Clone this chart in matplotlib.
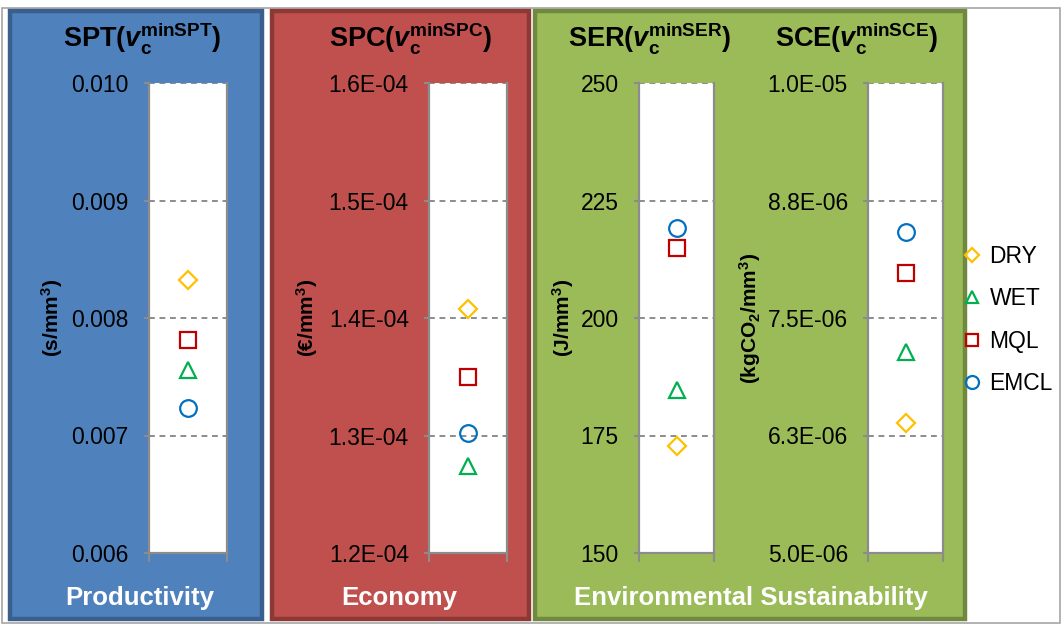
import matplotlib
matplotlib.use("Agg")
import matplotlib.pyplot as plt
from matplotlib.patches import Rectangle

# ---------------- data ----------------
categories = ["DRY", "WET", "MQL", "EMCL"]
spt_values = [0.00832, 0.00756, 0.00781, 0.00723]
spc_values = [1.408e-4, 1.274e-4, 1.350e-4, 1.302e-4]
ser_values = [172.8, 184.7, 214.9, 219.1]
sce_values = [6.38e-6, 7.14e-6, 7.98e-6, 8.42e-6]

spt_ticks = [0.006, 0.007, 0.008, 0.009, 0.010]
spt_ticklabels = ["0.006", "0.007", "0.008", "0.009", "0.010"]
spc_ticks = [1.2e-4, 1.3e-4, 1.4e-4, 1.5e-4, 1.6e-4]
spc_ticklabels = ["1.2E-04", "1.3E-04", "1.4E-04", "1.5E-04", "1.6E-04"]
ser_ticks = [150, 175, 200, 225, 250]
ser_ticklabels = ["150", "175", "200", "225", "250"]
sce_ticks = [5.0e-6, 6.25e-6, 7.5e-6, 8.75e-6, 1.0e-5]
sce_ticklabels = ["5.0E-06", "6.3E-06", "7.5E-06", "8.8E-06", "1.0E-05"]

titles = [r"SPT($\mathbfit{v}_{\mathbf{c}}^{\mathbf{minSPT}}$)",
          r"SPC($\mathbfit{v}_{\mathbf{c}}^{\mathbf{minSPC}}$)",
          r"SER($\mathbfit{v}_{\mathbf{c}}^{\mathbf{minSER}}$)",
          r"SCE($\mathbfit{v}_{\mathbf{c}}^{\mathbf{minSCE}}$)"]
ylabels = [r"(s/mm$^{\mathbf{3}}$)", r"(€/mm$^{\mathbf{3}}$)",
           r"(J/mm$^{\mathbf{3}}$)", r"(kgCO$_{\mathbf{2}}$/mm$^{\mathbf{3}}$)"]
groups = ["Productivity", "Economy", "Environmental Sustainability"]

# ---------------- style ----------------
plt.rcParams["font.family"] = ["Liberation Sans", "DejaVu Sans"]
plt.rcParams["mathtext.fontset"] = "custom"
plt.rcParams["mathtext.rm"] = "Liberation Sans"
plt.rcParams["mathtext.it"] = "Liberation Sans:italic"
plt.rcParams["mathtext.bf"] = "Liberation Sans:bold"
plt.rcParams["mathtext.bfit"] = "Liberation Sans:bold:italic"

styles = {
    "DRY": dict(marker="D", color="#FFC000", ms=9.5),
    "WET": dict(marker="^", color="#00B050", ms=11.5),
    "MQL": dict(marker="s", color="#C00000", ms=11),
    "EMCL": dict(marker="o", color="#0070C0", ms=12),
}

W, H = 1062, 624
fig = plt.figure(figsize=(W / 100, H / 100), dpi=100)
fig.patch.set_facecolor("white")


def fx(x):
    return x / W


def fy(y):
    return 1 - y / H


# outer chart border
fig.add_artist(Rectangle((fx(1.5), fy(622.5)), fx(1058), (622.5 - 8) / H,
                         transform=fig.transFigure, facecolor="white",
                         edgecolor="#a6a6a6", lw=1.2, zorder=-10))

# coloured group panels (left, right in px)
panels = [(10, 262, "#4F81BD", "#3A5F8C"),
          (272, 529, "#C0504D", "#8C3836"),
          (535, 965, "#9BBB59", "#71893F")]
for (x0, x1, fc, ec) in panels:
    fig.add_artist(Rectangle((fx(x0), fy(619)), fx(x1 - x0), (619 - 11) / H,
                             transform=fig.transFigure, facecolor=fc,
                             edgecolor=ec, lw=3.2, zorder=-5))

# axes geometry (px)
axes_x = [(149, 227), (429, 507), (639, 714), (868, 943)]
y_top, y_bot = 83, 553
values_list = [spt_values, spc_values, ser_values, sce_values]
ticks_list = [spt_ticks, spc_ticks, ser_ticks, sce_ticks]
ticklabels_list = [spt_ticklabels, spc_ticklabels, ser_ticklabels, sce_ticklabels]
title_x = [142, 411, 650, 857]
ylabel_x = [52, 307, 563, 750]

grey = "#8c8c8c"
all_axes = []
for i in range(4):
    x0, x1 = axes_x[i]
    ax = fig.add_axes([fx(x0), fy(y_bot), fx(x1 - x0), (y_bot - y_top) / H])
    ax.set_facecolor("white")
    ticks = ticks_list[i]
    ax.set_ylim(ticks[0], ticks[-1])
    ax.set_xlim(0, 1)
    ax.set_yticks(ticks)
    ax.set_yticklabels(ticklabels_list[i], fontsize=16.5)
    ax.set_xticks([0, 1])
    ax.set_xticklabels([])
    ax.tick_params(axis="y", length=3.5, width=1.5, color=grey, pad=11)
    ax.tick_params(axis="x", length=6.5, width=1.5, color=grey, direction="out")
    for s in ["left", "right", "bottom"]:
        ax.spines[s].set_color(grey)
        ax.spines[s].set_linewidth(1.6)
    ax.spines["top"].set_visible(False)
    for t in ticks[1:]:
        ax.axhline(t, color=grey, lw=1.4, ls=(0, (3, 2.4)), zorder=1)
    for cat, val in zip(categories, values_list[i]):
        st = styles[cat]
        ax.plot([0.5], [val], linestyle="none", marker=st["marker"],
                markersize=st["ms"], markerfacecolor="none",
                markeredgecolor=st["color"], markeredgewidth=1.6,
                label=cat, zorder=3, clip_on=False)
    all_axes.append(ax)
    fig.text(fx(title_x[i]), fy(38), titles[i], fontsize=19.5,
             fontweight="bold", ha="center", va="center")
    fig.text(fx(ylabel_x[i]), fy((y_top + y_bot) / 2), ylabels[i],
             fontsize=15, fontweight="bold", rotation=90,
             ha="center", va="center")

# group labels
group_x = [140, 399, 751]
for gx, g in zip(group_x, groups):
    fig.text(fx(gx), fy(598), g, fontsize=18.5, fontweight="bold",
             color="white", ha="center", va="center")

handles, labels = all_axes[0].get_legend_handles_labels()
fig.legend(handles, labels, loc="center left",
           bbox_to_anchor=(fx(962), fy(320)), frameon=False, fontsize=16.5,
           handlelength=0.9, handletextpad=0.3, labelspacing=0.85,
           markerscale=0.78, borderaxespad=0, borderpad=0)

fig.savefig("out.png", dpi=100)
